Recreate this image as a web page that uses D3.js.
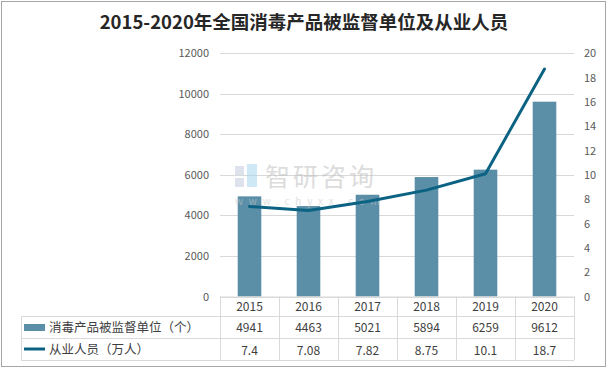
<!DOCTYPE html>
<html><head><meta charset="utf-8">
<script src="https://cdn.jsdelivr.net/npm/d3@7/dist/d3.min.js"></script>
<style>body{margin:0;background:#fff}svg{display:block}</style>
</head><body><svg id="c" width="608" height="369"></svg>
<script>
const title = "2015-2020年全国消毒产品被监督单位及从业人员";
const categories = ["2015","2016","2017","2018","2019","2020"];
const barName = "消毒产品被监督单位（个）";
const lineName = "从业人员（万人）";
const barValues = [4941,4463,5021,5894,6259,9612];
const lineValues = [7.4,7.08,7.82,8.75,10.1,18.7];
const leftTicks = [0,2000,4000,6000,8000,10000,12000];
const rightTicks = [0,2,4,6,8,10,12,14,16,18,20];

const svg = d3.select("#c");
const font = "'Noto Sans CJK SC','Noto Sans',sans-serif";
const L = 220, R = 574, T = 53.3, B = 296.5;
const tableLeft = 21, row1 = 316, row2 = 338, tableBottom = 360;
const barColor = "#5b8fa8", lineColor = "#0b6283", grid = "#d9d9d9";

svg.append("rect").attr("x",1.5).attr("y",1.5).attr("width",604).attr("height",365)
  .attr("fill","#fff").attr("stroke","#a6a6a6").attr("stroke-width",1);

svg.append("text").attr("x",304).attr("y",29).attr("text-anchor","middle")
  .attr("font-family",font).attr("font-weight","bold").attr("font-size",18.5)
  .attr("fill","#262626").text(title);

const x = d3.scaleBand().domain(categories).range([L,R]).paddingInner(0.6).paddingOuter(0.3);
const xb = d3.scaleBand().domain(categories).range([L,R]);
const yL = d3.scaleLinear().domain([0,12000]).range([B,T]);
const yR = d3.scaleLinear().domain([0,20]).range([B,T]);

// gridlines
svg.append("g").selectAll("line").data(leftTicks).join("line")
  .attr("x1",L).attr("x2",R).attr("y1",d=>Math.round(yL(d))+0.5).attr("y2",d=>Math.round(yL(d))+0.5)
  .attr("stroke",grid).attr("stroke-width",1);

// axes labels
const gl = svg.append("g").attr("transform",`translate(${L},0)`)
  .call(d3.axisLeft(yL).tickValues(leftTicks).tickSize(0).tickPadding(11).tickFormat(d3.format("d")));
gl.select(".domain").remove();
gl.selectAll("text").attr("font-family",font).attr("font-size",11).attr("fill","#595959");
const gr = svg.append("g").attr("transform",`translate(${R},0)`)
  .call(d3.axisRight(yR).tickValues(rightTicks).tickSize(0).tickPadding(10).tickFormat(d3.format("d")));
gr.select(".domain").remove();
gr.selectAll("text").attr("font-family",font).attr("font-size",11).attr("fill","#595959");

// bars
svg.append("g").selectAll("rect").data(barValues).join("rect")
  .attr("x",(d,i)=>x(categories[i])).attr("width",x.bandwidth())
  .attr("y",d=>yL(d)).attr("height",d=>B-yL(d)).attr("fill",barColor);

// watermark (over bars)
const wm = svg.append("g").attr("opacity",0.55);
wm.append("rect").attr("x",235).attr("y",166).attr("width",9).attr("height",9).attr("fill","#c3cce0");
wm.append("rect").attr("x",235).attr("y",178).attr("width",9).attr("height",9).attr("fill","#c3cce0");
wm.append("rect").attr("x",247).attr("y",164).attr("width",10).attr("height",23).attr("fill","#a9d6ee");
wm.append("text").attr("x",265).attr("y",186).attr("font-family",font).attr("font-size",25)
  .attr("fill","#c0c0c0").attr("letter-spacing",3).text("智研咨询");
wm.append("text").attr("x",235).attr("y",205).attr("font-family",font).attr("font-size",10)
  .attr("fill","#c8c8c8").attr("letter-spacing",5.8).text("www.chyxx.com");

// line
const line = d3.line().x((d,i)=>xb(categories[i])+xb.bandwidth()/2).y(d=>yR(d));
svg.append("path").datum(lineValues).attr("d",line).attr("fill","none")
  .attr("stroke",lineColor).attr("stroke-width",3).attr("stroke-linejoin","round").attr("stroke-linecap","round");

// data table
const t = svg.append("g").attr("stroke",grid).attr("stroke-width",1);
[row1,row2,tableBottom].forEach(yy=>t.append("line").attr("x1",tableLeft).attr("x2",R).attr("y1",yy+0.5).attr("y2",yy+0.5));
t.append("line").attr("x1",L).attr("x2",R).attr("y1",B+0.5).attr("y2",B+0.5);
t.append("line").attr("x1",tableLeft+0.5).attr("x2",tableLeft+0.5).attr("y1",row1).attr("y2",tableBottom);
categories.forEach(c=>t.append("line").attr("x1",Math.round(xb(c))+0.5).attr("x2",Math.round(xb(c))+0.5).attr("y1",B).attr("y2",tableBottom));
t.append("line").attr("x1",R+0.5).attr("x2",R+0.5).attr("y1",B).attr("y2",tableBottom);

const tx = svg.append("g").attr("font-family",font).attr("font-size",12).attr("fill","#404040").attr("text-anchor","middle");
categories.forEach((c,i)=>{
  const cx = xb(c)+xb.bandwidth()/2;
  tx.append("text").attr("x",cx).attr("y",311).text(c);
  tx.append("text").attr("x",cx).attr("y",332).text(barValues[i]);
  tx.append("text").attr("x",cx).attr("y",355).text(lineValues[i]);
});
svg.append("rect").attr("x",24).attr("y",324).attr("width",21).attr("height",7).attr("fill",barColor);
svg.append("line").attr("x1",24).attr("x2",45).attr("y1",349).attr("y2",349).attr("stroke",lineColor).attr("stroke-width",3);
svg.append("text").attr("x",49).attr("y",332).attr("font-family",font).attr("font-size",12.5).attr("fill","#404040").text(barName);
svg.append("text").attr("x",49).attr("y",354).attr("font-family",font).attr("font-size",12.5).attr("fill","#404040").text(lineName);
</script></body></html>
